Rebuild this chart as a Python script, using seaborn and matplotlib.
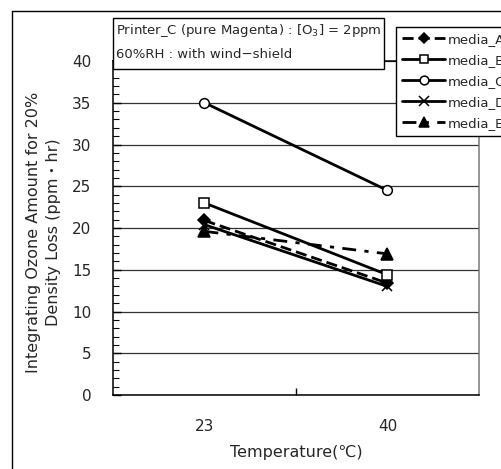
import numpy as np
import pandas as pd
import matplotlib
matplotlib.use("Agg")
import matplotlib.pyplot as plt
from matplotlib.patches import Rectangle
from matplotlib.lines import Line2D
from matplotlib.ticker import MultipleLocator, FixedLocator
import seaborn as sns

# ============================================================================
# DATA
# ============================================================================

temperatures = ["23", "40"]
media = ["media_A", "media_B", "media_C", "media_D", "media_E"]
media_A = [20.9, 13.4]
media_B = [23.0, 14.4]
media_C = [35.0, 24.5]
media_D = [20.4, 13.0]
media_E = [19.6, 16.9]
y_ticks = [0, 5, 10, 15, 20, 25, 30, 35, 40]

# ============================================================================
# STYLE
# ============================================================================

sns.set_theme(style="white")
plt.rcParams['font.family'] = ['DejaVu Sans', 'Noto Sans CJK JP']

styles = {
    "media_A": dict(marker="D", mfc="black", ls=(0, (4, 1.8)), ms=6),
    "media_B": dict(marker="s", mfc="white", ls="-", ms=6.5),
    "media_C": dict(marker="o", mfc="white", ls="-", ms=7),
    "media_D": dict(marker="x", mfc="black", ls="-", ms=7.5),
    "media_E": dict(marker="^", mfc="black", ls=(0, (5, 3, 1.5, 3)), ms=8),
}

# ============================================================================
# PLOT
# ============================================================================

fig = plt.figure(figsize=(5.02, 4.69), dpi=100)
ax = fig.add_axes([113 / 502, 1 - 395 / 469, 366 / 502, 334 / 469])

values = dict(zip(media, [media_A, media_B, media_C, media_D, media_E]))
xpos = np.arange(len(temperatures))
for name in media:
    st = styles[name]
    df = pd.DataFrame({"x": xpos, "y": values[name]})
    sns.lineplot(data=df, x="x", y="y", ax=ax, color="black", lw=2,
                 marker=st["marker"], markersize=st["ms"],
                 markerfacecolor=st["mfc"], markeredgecolor="black",
                 markeredgewidth=1.1, label=name, zorder=3)
    ax.lines[-1].set_linestyle(st["ls"])

ax.set_xlim(-0.5, len(temperatures) - 0.5)
ax.set_ylim(0, 40)
ax.set_xticks(xpos)
ax.set_xticklabels(temperatures)
ax.xaxis.set_minor_locator(FixedLocator([0.5]))
ax.set_yticks(y_ticks)
ax.yaxis.set_minor_locator(MultipleLocator(1))

ax.tick_params(axis="x", which="major", length=0, pad=17, labelsize=11)
ax.tick_params(axis="x", which="minor", direction="in", length=5, width=1, color="black", bottom=True)
ax.tick_params(axis="y", which="major", direction="in", length=6, width=1, pad=15.5,
               labelsize=11, color="black", left=True)
ax.tick_params(axis="y", which="minor", direction="in", length=4, width=0.8, color="black", left=True)

ax.grid(axis="y", which="major", color="#333333", lw=0.9)
ax.set_axisbelow(True)
for side, sp in ax.spines.items():
    sp.set_color("black" if side != "right" else "#777777")
    sp.set_linewidth(1.1)

ax.set_xlabel("Temperature(℃)", fontsize=11.5)
ax.set_ylabel("Integrating Ozone Amount for 20%\nDensity Loss (ppm・hr)", fontsize=11.5,
              linespacing=1.4)
ax.xaxis.set_label_coords(0.5, -0.15)
ax.yaxis.set_label_coords(-0.142, 0.487)

# legend runs past the right edge, as in the original
leg = ax.legend(loc="upper left", bbox_to_anchor=(396 / 502, 1 - 27 / 469),
                bbox_transform=fig.transFigure, frameon=True, fancybox=False,
                edgecolor="black", fontsize=9.5, handlelength=3.3,
                handletextpad=0.2, borderpad=0.45, labelspacing=0.6,
                borderaxespad=0, markerscale=0.9)
leg.get_frame().set_linewidth(1)
leg.get_frame().set_alpha(1)

# annotation box
box = Rectangle((113 / 502, 1 - 69 / 469), 271 / 502, 51 / 469, transform=fig.transFigure,
                facecolor="white", edgecolor="black", lw=1, zorder=5)
fig.add_artist(box)
fig.text(116 / 502, 1 - 30 / 469, "Printer_C (pure Magenta) : [O$_3$] = 2ppm",
         fontsize=9.5, va="center", ha="left", zorder=6)
fig.text(116 / 502, 1 - 54 / 469, "60%RH : with wind−shield",
         fontsize=9.5, va="center", ha="left", zorder=6)

# outer frame of the original figure
fig.add_artist(Line2D([12.5 / 502, 12.5 / 502], [0, 1 - 11.5 / 469],
                      transform=fig.transFigure, color="black", lw=1))
fig.add_artist(Line2D([12.5 / 502, 1], [1 - 11.5 / 469, 1 - 11.5 / 469],
                      transform=fig.transFigure, color="black", lw=1))

fig.savefig("out.png", dpi=100)
